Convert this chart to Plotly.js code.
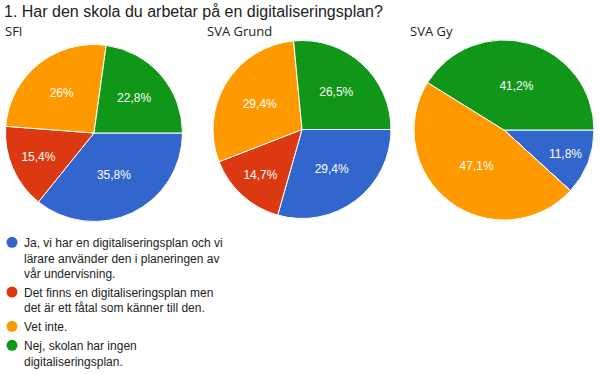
<!DOCTYPE html>
<html>
<head>
<meta charset="utf-8">
<script src="https://cdn.plot.ly/plotly-3.0.1.min.js"></script>
<style>html,body{margin:0;padding:0;background:#fff;}#chart{width:600px;height:374px;}</style>
</head>
<body>
<div id="chart"></div>
<script>
// ---- data ----
const categories = [
  "Ja, vi har en digitaliseringsplan och vi<br>lärare använder den i planeringen av<br>vår undervisning.",
  "Det finns en digitaliseringsplan men<br>det är ett fåtal som känner till den.",
  "Vet inte.",
  "Nej, skolan har ingen<br>digitaliseringsplan."
];
const groups = ["SFI", "SVA Grund", "SVA Gy"];
const sfiValues = [35.8, 15.4, 26, 22.8];
const svaGrundValues = [29.4, 14.7, 29.4, 26.5];
const svaGyValues = [11.8, 0, 47.1, 41.2];
const colors = ["#3366cc", "#dc3912", "#ff9900", "#109618"];
const chartTitle = "1. Har den skola du arbetar på en digitaliseringsplan?";

// ---- layout helpers ----
const W = 600, H = 374;
function dom(cx, cy, r) {
  return { x: [(cx - r) / W, (cx + r) / W], y: [1 - (cy + r) / H, 1 - (cy - r) / H] };
}
const pieGeom = [ [94, 133, 88.5], [302, 129.5, 89], [504, 130, 90] ];
const subtitleX = [3, 205, 408];
const allValues = [sfiValues, svaGrundValues, svaGyValues];

function fmt(v) { return v ? String(v).replace('.', ',') + '%' : ''; }

const traces = allValues.map((vals, i) => ({
  type: 'pie',
  values: vals,
  labels: categories,
  text: vals.map(fmt),
  textinfo: 'text',
  hoverinfo: 'label+text',
  textposition: 'inside',
  insidetextorientation: 'horizontal',
  insidetextfont: { family: 'Arial, Liberation Sans, sans-serif', size: 12, color: '#ffffff' },
  sort: false,
  direction: 'clockwise',
  rotation: 90,
  marker: { colors: colors, line: { color: '#ffffff', width: 1 } },
  showlegend: false,
  domain: dom(...pieGeom[i])
}));

// legend entries (circle markers)
categories.forEach((c, i) => {
  traces.push({
    type: 'scatter', mode: 'markers', x: [null], y: [null],
    name: c,
    marker: { symbol: 'circle', size: 11, color: colors[i] },
    showlegend: true, hoverinfo: 'skip'
  });
});

const annotations = groups.map((g, i) => ({
  text: g, xref: 'paper', yref: 'paper',
  x: subtitleX[i] / W, y: 1 - 31 / H, xanchor: 'left', yanchor: 'middle',
  showarrow: false,
  font: { family: 'Open Sans, sans-serif', size: 13, color: '#222222' }
}));

const layout = {
  width: W, height: H,
  margin: { l: 0, r: 0, t: 0, b: 0, autoexpand: false },
  paper_bgcolor: '#ffffff', plot_bgcolor: '#ffffff',
  title: {
    text: chartTitle, xref: 'paper', yref: 'paper',
    x: 4 / W, xanchor: 'left', y: 1 - 11 / H, yanchor: 'middle',
    font: { family: 'Arial, Liberation Sans, sans-serif', size: 16, color: '#222222' }
  },
  xaxis: { visible: false, domain: [0, 0.01] },
  yaxis: { visible: false, domain: [0, 0.01] },
  showlegend: true,
  legend: {
    x: -8 / W, y: 1 - 228 / H, xanchor: 'left', yanchor: 'top',
    valign: 'top',
    bgcolor: 'rgba(0,0,0,0)',
    font: { family: 'Arial, Liberation Sans, sans-serif', size: 12, color: '#222222' },
    itemclick: false, itemdoubleclick: false
  },
  annotations: annotations
};

Plotly.newPlot('chart', traces, layout, { displayModeBar: false, staticPlot: true }).then(gd => {
  // tighten the gap between legend circle and its label
  gd.querySelectorAll('.legend .legendtext').forEach(t => {
    const nx = (parseFloat(t.getAttribute('x')) || 40) - 8;
    t.setAttribute('x', nx);
    t.querySelectorAll('tspan.line').forEach(s => s.setAttribute('x', nx));
  });
});
</script>
</body>
</html>
